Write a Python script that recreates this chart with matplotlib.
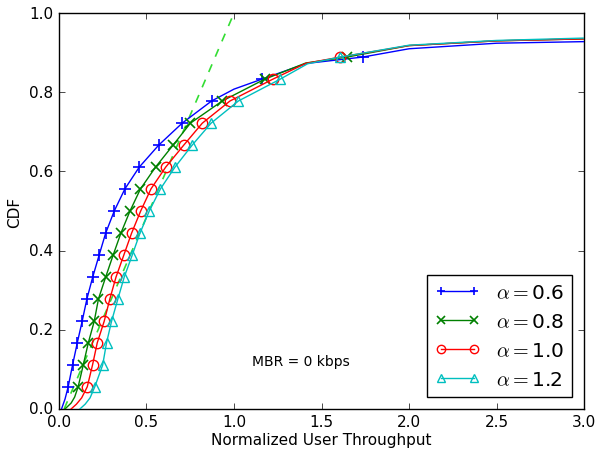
import matplotlib
matplotlib.use('Agg')
import matplotlib.pyplot as plt

plt.style.use('classic')
plt.rcParams['mathtext.fontset'] = 'cm'
plt.rcParams['font.size'] = 11

# CDF curves (x = normalized throughput, y = CDF)
x_06 = [0.015, 0.035, 0.053, 0.078, 0.105, 0.133, 0.160, 0.193, 0.230, 0.267, 0.316, 0.377,
        0.459, 0.571, 0.704, 0.872, 1.0, 1.158, 1.415, 1.735, 2.0, 2.5, 3.0]
y_06 = [0.0, 0.025, 0.056, 0.111, 0.167, 0.222, 0.278, 0.333, 0.389, 0.444, 0.5, 0.556,
        0.611, 0.667, 0.722, 0.778, 0.808, 0.833, 0.873, 0.889, 0.910, 0.924, 0.928]
mark_06 = list(range(2, 16)) + [17, 19]

x_08 = [0.035, 0.07, 0.09, 0.110, 0.139, 0.168, 0.202, 0.226, 0.267, 0.310, 0.354, 0.406, 0.466,
        0.552, 0.653, 0.751, 0.933, 1.175, 1.41, 1.645, 2.0, 2.5, 3.0]
y_08 = [0.0, 0.015, 0.03, 0.056, 0.111, 0.167, 0.222, 0.278, 0.333, 0.389, 0.444, 0.5, 0.556,
        0.611, 0.667, 0.722, 0.778, 0.833, 0.874, 0.889, 0.918, 0.930, 0.935]
mark_08 = list(range(3, 18)) + [19]

x_10 = [0.07, 0.10, 0.13, 0.162, 0.192, 0.219, 0.259, 0.291, 0.326, 0.371, 0.415, 0.467, 0.526,
        0.610, 0.714, 0.819, 0.977, 1.221, 1.41, 1.606, 2.0, 2.5, 3.0]
y_10 = [0.0, 0.012, 0.028, 0.056, 0.111, 0.167, 0.222, 0.278, 0.333, 0.389, 0.444, 0.5, 0.556,
        0.611, 0.667, 0.722, 0.778, 0.833, 0.873, 0.889, 0.918, 0.930, 0.935]
mark_10 = list(range(3, 18)) + [19]

x_12 = [0.12, 0.15, 0.178, 0.205, 0.250, 0.272, 0.301, 0.337, 0.373, 0.419, 0.463, 0.516, 0.580,
        0.663, 0.762, 0.869, 1.025, 1.263, 1.42, 1.606, 2.0, 2.5, 3.0]
y_12 = [0.0, 0.012, 0.028, 0.056, 0.111, 0.167, 0.222, 0.278, 0.333, 0.389, 0.444, 0.5, 0.556,
        0.611, 0.667, 0.722, 0.778, 0.833, 0.872, 0.889, 0.919, 0.931, 0.937]
mark_12 = list(range(3, 18)) + [19]

# dashed reference line
ref_x = [0.03, 1.0]
ref_y = [0.0, 1.0]

fig = plt.figure(figsize=(6.01, 4.56), dpi=100)
ax = fig.add_axes([0.098, 0.101, 0.874, 0.868])

ax.plot(ref_x, ref_y, '--', color='#33dd33', lw=1.2, zorder=1)
ax.plot(x_06, y_06, 'b-', marker='+', ms=8, mew=1.2, markevery=mark_06, label=r'$\alpha=$0.6', zorder=3)
ax.plot(x_08, y_08, 'g-', marker='x', ms=7, mew=1.2, markevery=mark_08, label=r'$\alpha=$0.8', zorder=3)
ax.plot(x_10, y_10, 'r-', marker='o', ms=7.5, mew=1, mfc='none', mec='r', markevery=mark_10,
        label=r'$\alpha=$1.0', zorder=3)
ax.plot(x_12, y_12, 'c-', marker='^', ms=7.5, mew=1, mfc='none', mec='c', markevery=mark_12,
        label=r'$\alpha=$1.2', zorder=3)

ax.set_xlim(0, 3.0)
ax.set_ylim(0, 1.0)
ax.set_xlabel('Normalized User Throughput', labelpad=2)
ax.set_ylabel('CDF')
ax.text(1.38, 0.12, 'MBR = 0 kbps', ha='center', va='center', fontsize=10)
ax.legend(loc='lower right', numpoints=2, fontsize=14.5, handlelength=2.2,
          markerscale=0.8, borderaxespad=0.6)

fig.savefig('out.png', dpi=100)
